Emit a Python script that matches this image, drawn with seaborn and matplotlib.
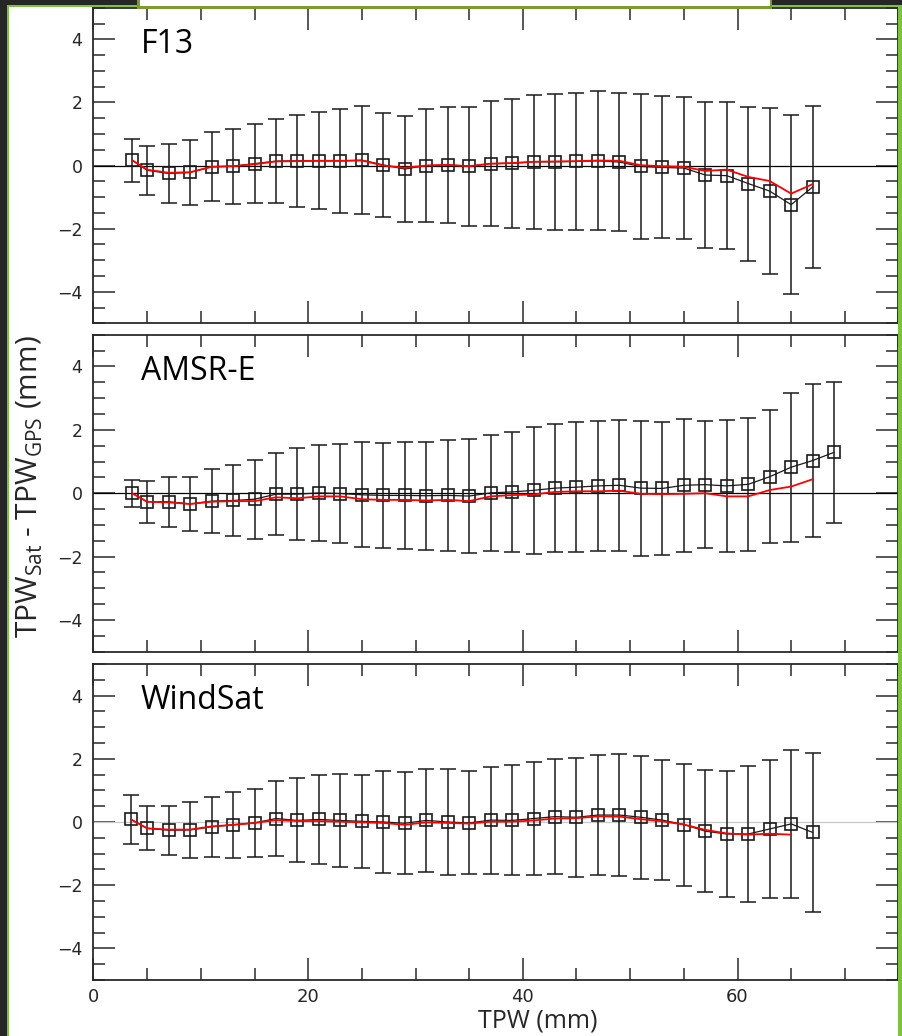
import matplotlib
matplotlib.use("Agg")
import matplotlib.pyplot as plt
import seaborn as sns
from matplotlib.patches import Rectangle
from matplotlib.ticker import MultipleLocator

# TPW bin centres (mm)
tpw_f13 = [3.6, 5, 7, 9, 11, 13, 15, 17, 19, 21, 23, 25, 27, 29, 31, 33, 35,
           37, 39, 41, 43, 45, 47, 49, 51, 53, 55, 57, 59, 61, 63, 65, 67]
tpw_amsr = [3.6, 5, 7, 9, 11, 13, 15, 17, 19, 21, 23, 25, 27, 29, 31, 33, 35,
            37, 39, 41, 43, 45, 47, 49, 51, 53, 55, 57, 59, 61, 63, 65, 67, 69]
tpw_windsat = [3.5, 5, 7, 9, 11, 13, 15, 17, 19, 21, 23, 25, 27, 29, 31, 33, 35,
               37, 39, 41, 43, 45, 47, 49, 51, 53, 55, 57, 59, 61, 63, 65, 67]

# mean bias (black squares) and std dev (error bars)
mean_f13 = [0.17, -0.15, -0.25, -0.22, -0.04, -0.02, 0.06, 0.14, 0.15, 0.15, 0.15,
            0.17, 0.02, -0.11, 0.0, 0.02, -0.02, 0.06, 0.07, 0.12, 0.12, 0.13, 0.15,
            0.11, -0.03, -0.06, -0.08, -0.30, -0.32, -0.57, -0.81, -1.24, -0.68]
sd_f13 = [0.68, 0.77, 0.94, 1.02, 1.09, 1.19, 1.25, 1.34, 1.45, 1.54, 1.65, 1.71,
          1.64, 1.67, 1.79, 1.85, 1.89, 1.98, 2.05, 2.12, 2.16, 2.18, 2.20, 2.19,
          2.29, 2.25, 2.25, 2.30, 2.34, 2.44, 2.63, 2.83, 2.58]
red_f13 = [0.17, -0.13, -0.23, -0.21, -0.04, -0.02, 0.04, 0.13, 0.14, 0.15, 0.15,
           0.16, 0.0, -0.07, 0.0, 0.02, -0.02, 0.06, 0.08, 0.12, 0.13, 0.14, 0.16,
           0.15, 0.01, -0.02, -0.04, -0.17, -0.13, -0.36, -0.49, -0.89, -0.59]

mean_amsr = [0.0, -0.27, -0.27, -0.34, -0.25, -0.23, -0.19, -0.03, -0.03, 0.01, -0.01,
             -0.05, -0.07, -0.07, -0.08, -0.07, -0.09, 0.01, 0.04, 0.09, 0.16, 0.19,
             0.23, 0.25, 0.16, 0.15, 0.25, 0.27, 0.23, 0.28, 0.52, 0.82, 1.03, 1.29]
sd_amsr = [0.42, 0.67, 0.79, 0.86, 1.00, 1.12, 1.24, 1.30, 1.46, 1.52, 1.55, 1.65,
           1.66, 1.68, 1.70, 1.76, 1.80, 1.84, 1.90, 2.01, 2.01, 2.05, 2.05, 2.07,
           2.13, 2.11, 2.10, 2.01, 2.07, 2.09, 2.10, 2.35, 2.40, 2.23]
red_amsr = [0.0, -0.27, -0.29, -0.34, -0.27, -0.25, -0.25, -0.13, -0.16, -0.10, -0.10,
            -0.19, -0.21, -0.21, -0.23, -0.21, -0.25, -0.10, -0.06, -0.04, 0.04, 0.06,
            0.06, 0.08, -0.02, -0.03, -0.02, 0.0, -0.10, -0.10, 0.10, 0.21, 0.44]

mean_windsat = [0.08, -0.20, -0.26, -0.25, -0.15, -0.09, -0.03, 0.11, 0.05, 0.08, 0.05,
                0.02, 0.0, -0.04, 0.05, 0.0, -0.03, 0.06, 0.05, 0.11, 0.17, 0.15, 0.22,
                0.22, 0.15, 0.06, -0.08, -0.29, -0.38, -0.38, -0.22, -0.06, -0.33]
sd_windsat = [0.77, 0.70, 0.77, 0.89, 0.95, 1.04, 1.07, 1.19, 1.33, 1.40, 1.47, 1.47,
              1.60, 1.62, 1.63, 1.68, 1.63, 1.69, 1.74, 1.78, 1.83, 1.89, 1.91, 1.92,
              1.95, 1.90, 1.93, 1.92, 1.99, 2.14, 2.19, 2.35, 2.52]
red_windsat = [0.08, -0.20, -0.24, -0.24, -0.14, -0.09, -0.03, 0.06, 0.03, 0.03, 0.01,
               -0.01, -0.03, -0.09, -0.01, -0.03, -0.05, 0.01, 0.01, 0.05, 0.11, 0.12,
               0.18, 0.17, 0.09, 0.02, -0.08, -0.25, -0.36, -0.40, -0.37, -0.40]

panels = [
    ("F13", tpw_f13, mean_f13, sd_f13, red_f13, "black"),
    ("AMSR-E", tpw_amsr, mean_amsr, sd_amsr, red_amsr, "black"),
    ("WindSat", tpw_windsat, mean_windsat, sd_windsat, red_windsat, "#c8c8c8"),
]

sns.set_theme(style="ticks")
plt.rcParams["font.family"] = ["DejaVu Sans"]
plt.rcParams["mathtext.fontset"] = "custom"
plt.rcParams["mathtext.rm"] = "Open Sans"
plt.rcParams["axes.unicode_minus"] = True

W, H = 903, 1036
fig = plt.figure(figsize=(W / 100, H / 100), dpi=100)
fig.patch.set_facecolor("white")

# axes boxes in pixels (top, bottom)
boxes = [(7.8, 323.3), (334.7, 651.7), (664.0, 980.0)]
left_px, right_px = 93.5, 898.5

for i, (name, x, mean, sd, red, zcol) in enumerate(panels):
    top, bot = boxes[i]
    ax = fig.add_axes([left_px / W, 1 - bot / H, (right_px - left_px) / W, (bot - top) / H])
    ax.axhline(0, color=zcol, lw=0.9, zorder=1)
    ax.errorbar(x, mean, yerr=sd, fmt="none", ecolor="#1a1a1a", elinewidth=1.1,
                capsize=5.5, capthick=1.1, zorder=2)
    sns.lineplot(x=x, y=mean, ax=ax, color="#1a1a1a", linewidth=0.9, marker="s",
                 markersize=8, markerfacecolor="none", markeredgecolor="#1a1a1a",
                 markeredgewidth=1.2, zorder=3)
    sns.lineplot(x=x[:len(red)], y=red, ax=ax, color="red", linewidth=1.3, zorder=4)

    ax.set_xlim(0, 75)
    ax.set_ylim(-5, 5)
    ax.xaxis.set_major_locator(MultipleLocator(20))
    ax.xaxis.set_minor_locator(MultipleLocator(5))
    ax.yaxis.set_major_locator(MultipleLocator(2))
    ax.yaxis.set_minor_locator(MultipleLocator(0.5))
    ax.tick_params(which="both", direction="in", top=True, right=True,
                   color="#2a2a2a", width=1.1, labelsize=12.5)
    ax.tick_params(which="major", length=16, pad=8)
    ax.tick_params(which="minor", length=8.5)
    for s in ax.spines.values():
        s.set_color("#2a2a2a")
        s.set_linewidth(1.3)
    ax.set_ylabel("")
    ax.set_xlabel("")
    ax.text(0.059, 0.885, name, transform=ax.transAxes, fontsize=23,
            family="Open Sans", va="center", ha="left", color="black")
    if i < 2:
        ax.tick_params(axis="x", labelbottom=False)
    else:
        ax.tick_params(axis="x", pad=6, labelsize=13)
        ax.set_xlabel("TPW (mm)", fontsize=18, family="Open Sans")
        ax.xaxis.set_label_coords(0.552, -0.09)
        ax.xaxis.label.set_va("top")

fig.text(30 / W, 1 - 487 / H, r"TPW$_{\mathrm{Sat}}$ - TPW$_{\mathrm{GPS}}$ (mm)",
         rotation=90, fontsize=21.5, family="Open Sans", ha="center", va="center")


def px_rect(x0, y0, x1, y1, color):
    fig.patches.append(Rectangle((x0 / W, 1 - y1 / H), (x1 - x0) / W, (y1 - y0) / H,
                                 transform=fig.transFigure, facecolor=color,
                                 edgecolor="none", zorder=10))


# slide frame around the chart
px_rect(0, 0, W, 5.5, "#262626")
px_rect(0, 0, 7.3, H, "#262626")
px_rect(7.3, 5.5, W, 7.3, "#7cc242")
px_rect(7.3, 5.5, 9.3, H, "#7cc242")
px_rect(898.5, 5.5, W, H, "#7cc242")
px_rect(137, 0, 772, 9.3, "#7d9a2f")
px_rect(139.5, 0, 769.5, 5.8, "white")

fig.savefig("out.png", dpi=100)
